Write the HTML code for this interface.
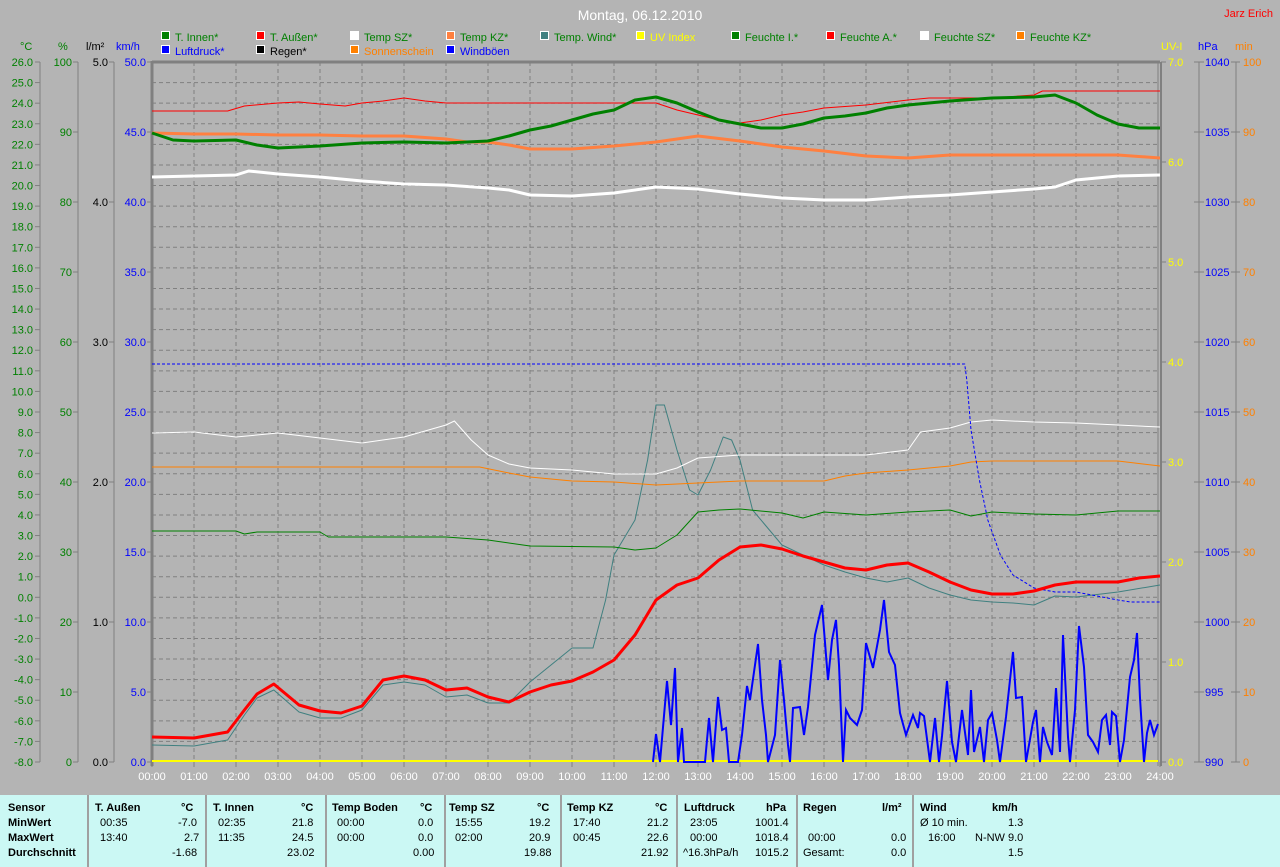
<!DOCTYPE html>
<html><head><meta charset="utf-8"><style>
body{margin:0;background:#b4b4b4;width:1280px;height:867px;overflow:hidden;font-family:"Liberation Sans",Arial,sans-serif;}
svg text{font-family:"Liberation Sans",Arial,sans-serif;}
#tbl{position:absolute;left:0;top:795px;width:1280px;height:72px;background:#cbf8f4;}
#tbl div{position:absolute;font-size:11px;white-space:nowrap;color:#000;}
.b{font-weight:bold;}
.v{position:absolute;top:0;width:2px;height:72px;background:#a0a0a0;}
</style></head><body>
<svg id="s" width="1280" height="795" style="position:absolute;left:0;top:0">
<text x="640" y="20" fill="#fff" font-size="14" text-anchor="middle">Montag, 06.12.2010</text>
<text x="1273" y="17" fill="#f00" font-size="11" text-anchor="end">Jarz Erich</text>
<g id="g"></g>
</svg>
<div id="tbl">
<div class="v" style="left:87px"></div><div class="v" style="left:205px"></div><div class="v" style="left:325px"></div><div class="v" style="left:444px"></div><div class="v" style="left:560px"></div><div class="v" style="left:676px"></div><div class="v" style="left:796px"></div><div class="v" style="left:912px"></div>
<div class="b" style="left:8px;top:7px">Sensor</div><div class="b" style="left:8px;top:22px">MinWert</div><div class="b" style="left:8px;top:37px">MaxWert</div><div class="b" style="left:8px;top:52px">Durchschnitt</div>
<div class="b" style="left:95px;top:7px">T. Außen</div><div class="b" style="left:181px;top:7px">°C</div>
<div style="left:100px;top:22px">00:35</div><div style="left:178px;top:22px">-7.0</div>
<div style="left:100px;top:37px">13:40</div><div style="left:184px;top:37px">2.7</div>
<div style="left:172px;top:52px">-1.68</div>
<div class="b" style="left:213px;top:7px">T. Innen</div><div class="b" style="left:301px;top:7px">°C</div>
<div style="left:218px;top:22px">02:35</div><div style="left:292px;top:22px">21.8</div>
<div style="left:218px;top:37px">11:35</div><div style="left:292px;top:37px">24.5</div>
<div style="left:287px;top:52px">23.02</div>
<div class="b" style="left:332px;top:7px">Temp Boden</div><div class="b" style="left:420px;top:7px">°C</div>
<div style="left:337px;top:22px">00:00</div><div style="left:418px;top:22px">0.0</div>
<div style="left:337px;top:37px">00:00</div><div style="left:418px;top:37px">0.0</div>
<div style="left:413px;top:52px">0.00</div>
<div class="b" style="left:449px;top:7px">Temp SZ</div><div class="b" style="left:537px;top:7px">°C</div>
<div style="left:455px;top:22px">15:55</div><div style="left:529px;top:22px">19.2</div>
<div style="left:455px;top:37px">02:00</div><div style="left:529px;top:37px">20.9</div>
<div style="left:524px;top:52px">19.88</div>
<div class="b" style="left:567px;top:7px">Temp KZ</div><div class="b" style="left:655px;top:7px">°C</div>
<div style="left:573px;top:22px">17:40</div><div style="left:647px;top:22px">21.2</div>
<div style="left:573px;top:37px">00:45</div><div style="left:647px;top:37px">22.6</div>
<div style="left:641px;top:52px">21.92</div>
<div class="b" style="left:684px;top:7px">Luftdruck</div><div class="b" style="left:766px;top:7px">hPa</div>
<div style="left:690px;top:22px">23:05</div><div style="left:755px;top:22px">1001.4</div>
<div style="left:690px;top:37px">00:00</div><div style="left:755px;top:37px">1018.4</div>
<div style="left:683px;top:52px">^16.3hPa/h</div><div style="left:755px;top:52px">1015.2</div>
<div class="b" style="left:803px;top:7px">Regen</div><div class="b" style="left:882px;top:7px">l/m²</div>
<div style="left:808px;top:37px">00:00</div><div style="left:891px;top:37px">0.0</div>
<div style="left:803px;top:52px">Gesamt:</div><div style="left:891px;top:52px">0.0</div>
<div class="b" style="left:920px;top:7px">Wind</div><div class="b" style="left:992px;top:7px">km/h</div>
<div style="left:920px;top:22px">Ø 10 min.</div><div style="left:1008px;top:22px">1.3</div>
<div style="left:928px;top:37px">16:00</div><div style="left:975px;top:37px">N-NW 9.0</div>
<div style="left:1008px;top:52px">1.5</div>
</div>
<script>
var g=document.getElementById('g'),h='';
function X(t){return 152+t*42;}
function T(x,y,c,s,a){h+='<text x="'+x+'" y="'+y+'" fill="'+c+'" font-size="'+s+'"'+(a?' text-anchor="'+a+'"':'')+'>'+x_(arguments[5])+'</text>';}
function x_(s){return s;}
function L(x1,y1,x2,y2,c,w,d){h+='<line x1="'+x1+'" y1="'+y1+'" x2="'+x2+'" y2="'+y2+'" stroke="'+c+'" stroke-width="'+(w||1)+'"'+(d?' stroke-dasharray="'+d+'"':'')+'/>';}
// grid
for(var i=1;i<34;i++){var y=62+i*700/34;L(152,y,1158,y,'#808080',1,'4,3');}
for(var i=1;i<24;i++){L(X(i),62,X(i),762,'#808080',1,'4,3');}
L(152,62,1160,62,'#808080',3);
L(152,61,152,766,'#808080',3);
L(1158,62,1158,766,'#808080',1);L(1161,62,1161,766,'#808080',2);
// left axes
L(40,62,40,762,'#808080');L(78,62,78,762,'#808080');L(114,62,114,762,'#808080');
for(var i=0;i<=34;i++){var y=62+i*700/34,v=26-i;L(35,y,40,y,'#808080');T(33,y+4,'#008000',11,'end',v.toFixed(1));}
for(var i=0;i<=10;i++){var y=762-i*70;L(73,y,78,y,'#808080');T(72,y+4,'#008000',11,'end',i*10);}
for(var i=0;i<=5;i++){var y=762-i*140;L(109,y,114,y,'#808080');T(108,y+4,'#000',11,'end',i.toFixed(1));}
for(var i=0;i<=10;i++){var y=762-i*70;L(147,y,152,y,'#808080');T(146,y+4,'#0000ff',11,'end',(i*5).toFixed(1));}
T(20,50,'#008000',11,'','°C');T(58,50,'#008000',11,'','%');T(86,50,'#000',11,'','l/m²');T(116,50,'#0000ff',11,'','km/h');
// right axes
L(1199,62,1199,762,'#808080');L(1236,62,1236,762,'#808080');
for(var i=0;i<=7;i++){var y=762-i*100;L(1161,y,1166,y,'#808080');T(1168,y+4,'#ffff00',11,'',i.toFixed(1));}
for(var i=0;i<=10;i++){var y=762-i*70;L(1194,y,1204,y,'#808080');T(1205,y+4,'#0000ff',11,'',990+i*5);L(1231,y,1240,y,'#808080');T(1243,y+4,'#ff8000',11,'',i*10);}
T(1161,50,'#ffff00',11,'','UV-I');T(1198,50,'#0000ff',11,'','hPa');T(1235,50,'#ff8000',11,'','min');
// hour labels
for(var i=0;i<=24;i++){L(X(i),762,X(i),767,'#808080');T(X(i),780,'#fff',11,'middle',(i<10?'0':'')+i+':00');}
// legend
var lg=[[162,37,'#008000','T. Innen*','#008000'],[257,37,'#ff0000','T. Außen*','#008000'],[351,37,'#ffffff','Temp SZ*','#008000'],[447,37,'#ff8040','Temp KZ*','#008000'],[541,37,'#408080','Temp. Wind*','#008000'],[637,37,'#ffff00','UV Index','#ffff00'],[732,37,'#008000','Feuchte I.*','#008000'],[827,37,'#ff0000','Feuchte A.*','#008000'],[921,37,'#ffffff','Feuchte SZ*','#008000'],[1017,37,'#ff8000','Feuchte KZ*','#008000'],
[162,51,'#0000ff','Luftdruck*','#0000ff'],[257,51,'#000000','Regen*','#000'],[351,51,'#ff8000','Sonnenschein','#ff8000'],[447,51,'#0000ff','Windböen','#0000ff']];
lg.forEach(function(a){h+='<rect x="'+(a[0]-0.5)+'" y="'+(a[1]-5.5)+'" width="8" height="8" fill="'+a[2]+'" stroke="#fff"/>';T(a[0]+13,a[1]+4,a[4],11,'',a[3]);});
function P(pts,c,w,d){var s=pts.map(function(p){return X(p[0]).toFixed(1)+','+p[1];}).join(' ');h+='<polyline points="'+s+'" fill="none" stroke="'+c+'" stroke-width="'+w+'"'+(d?' stroke-dasharray="'+d+'"':'')+' stroke-linejoin="round"/>';}
function Q(pts,c,w){h+='<polyline points="'+pts.map(function(p){return p.join(',');}).join(' ')+'" fill="none" stroke="'+c+'" stroke-width="'+w+'"/>';}
L(152,761,1158,761,'#ffff00',2);
P([[0,745],[1,746],[1.8,740],[2.2,715],[2.5,698],[2.9,690],[3.5,712],[4,718],[4.5,718],[5,710],[5.5,685],[6,682],[6.5,685],[7,697],[7.5,695],[8,703],[8.5,703],[9,682],[9.5,665],[10,648],[10.5,648],[10.8,600],[11,555],[11.5,520],[11.8,460],[12,405],[12.2,405],[12.5,450],[12.8,490],[13,495],[13.3,470],[13.6,437],[13.8,440],[14,460],[14.3,510],[14.6,525],[15,545],[15.5,555],[16,565],[16.5,572],[17,578],[17.5,582],[18,578],[18.5,588],[19,595],[19.5,600],[20,602],[20.5,603],[21,605],[21.5,596],[22,597],[23,592],[24,585]],'#408080',1);
P([[0,433],[1,432],[2,437],[3,433],[4,438],[5,443],[6,437],[7,425],[7.2,421],[7.6,440],[8,455],[8.5,464],[9,468],[10,470],[11,474],[12,474],[12.5,468],[13,458],[14,455],[17,455],[18,450],[18.3,432],[19,428],[19.5,422],[20,420],[21,422],[22,423],[23,425],[24,427]],'#ffffff',1);
P([[0,467],[7.8,467],[8.5,473],[9,477],[10,481],[11,482],[12,485],[13,483],[14,481],[16,481],[16.5,476],[17,473],[18,470],[19,466],[19.5,462],[20,461],[23,461],[24,466]],'#ff8000',1);
P([[0,531],[2,531],[2.2,534],[2.5,532],[4,532],[4.2,537],[7,537],[8,540],[9,546],[11,547],[11.5,550],[12,548],[12.5,535],[13,512],[13.5,510],[14,509],[15,513],[15.5,518],[16,512],[17,515],[18,512],[19,510],[19.5,516],[20,512],[21,514],[22,515],[23,511],[24,511]],'#008000',1);
P([[0,364],[19.35,364],[19.4,380],[19.5,430],[19.7,480],[19.9,520],[20.2,555],[20.5,575],[21,588],[21.5,592],[22,592],[23,600],[23.3,602],[24,602]],'#0000ff',1,'3,2');
P([[0,737],[1,738],[1.8,732],[2.2,710],[2.5,694],[2.9,684],[3.5,705],[4,711],[4.5,713],[5,706],[5.5,680],[6,676],[6.5,680],[7,690],[7.5,688],[8,697],[8.5,702],[9,692],[9.5,685],[10,681],[10.5,672],[11,660],[11.5,635],[12,600],[12.5,585],[13,578],[13.5,560],[14,547],[14.5,545],[15,549],[15.5,556],[16,562],[16.5,568],[17,570],[17.5,565],[18,563],[18.5,572],[19,582],[19.5,590],[20,594],[20.5,594],[21,591],[21.5,585],[22,582],[23,582],[23.5,578],[24,576]],'#ff0000',3);
Q([[653,762],[656,734],[660,762],[667,681],[671,725],[675,668],[678,762],[682,728],[684,762],[705,762],[709,718],[713,762],[718,697],[722,730],[726,728],[729,762],[738,762],[742,735],[747,686],[750,700],[758,644],[762,700],[766,735],[768,762],[775,735],[778,690],[780,660],[784,700],[788,745],[790,762],[793,708],[800,707],[804,735],[808,707],[815,635],[822,605],[828,680],[832,640],[836,620],[839,665],[843,762],[846,710],[850,718],[857,725],[862,710],[866,643],[873,668],[880,630],[884,600],[889,652],[895,665],[900,713],[906,735],[913,715],[918,728],[920,713],[924,716],[930,762],[935,718],[939,762],[942,736],[947,681],[952,742],[956,762],[962,710],[968,755],[971,690],[974,752],[980,727],[984,762],[988,720],[992,713],[997,740],[1000,762],[1006,717],[1013,652],[1016,698],[1022,697],[1026,762],[1033,722],[1036,710],[1040,762],[1043,727],[1047,742],[1052,755],[1056,688],[1060,752],[1063,635],[1068,737],[1070,762],[1075,710],[1079,626],[1084,667],[1088,735],[1093,742],[1098,752],[1102,720],[1106,715],[1110,745],[1112,712],[1116,716],[1120,762],[1124,740],[1130,677],[1134,660],[1137,633],[1140,698],[1144,762],[1147,733],[1150,720],[1154,735],[1158,724]],'#0000ff',2);
P([[0,111],[1.8,111],[2.2,106],[3,103],[3.5,102],[4,104],[4.6,106],[5,103],[5.5,101],[6,98],[6.5,101],[7,103],[12,103],[12.5,110],[13,115],[13.5,120],[14,123],[14.5,120],[15,115],[15.5,112],[16,108],[17,105],[18,100],[18.5,98],[20,98],[21,95],[21.2,91],[24,91]],'#ff0000',1);
P([[0,177],[1,176],[2,175],[2.3,171],[3,174],[4,177],[5,181],[6,184],[7,185],[8,188],[8.5,190],[9,195],[10,196],[11,193],[12,187],[13,189],[14,194],[15,198],[16,200],[17,200],[18,197],[19,195],[20,192],[21,189],[21.5,187],[22,180],[23,176],[24,175]],'#ffffff',3);
P([[0,133],[1,134],[2,134],[3,135],[4,135],[5,136],[6,136],[7,139],[7.5,142],[8,142],[8.5,145],[9,149],[10,149],[11,146],[12,142],[13,136],[14,141],[15,147],[16,151],[17,156],[18,158],[19,155],[23,155],[24,158]],'#ff8040',3);
P([[0,133],[0.5,140],[1,141],[2,140],[2.5,145],[3,148],[4,146],[5,143],[6,142],[7,143],[8,141],[8.5,136],[9,130],[9.5,126],[10,120],[10.5,114],[11,110],[11.5,100],[12,97],[12.5,103],[13,112],[13.5,120],[14,124],[14.5,128],[15,128],[15.5,124],[16,118],[16.5,116],[17,113],[17.5,108],[18,105],[18.5,103],[19,101],[20,98],[21,97],[21.5,95],[22,103],[22.5,115],[23,124],[23.5,128],[24,128]],'#008000',3);
g.innerHTML=h;
</script>
</body></html>
